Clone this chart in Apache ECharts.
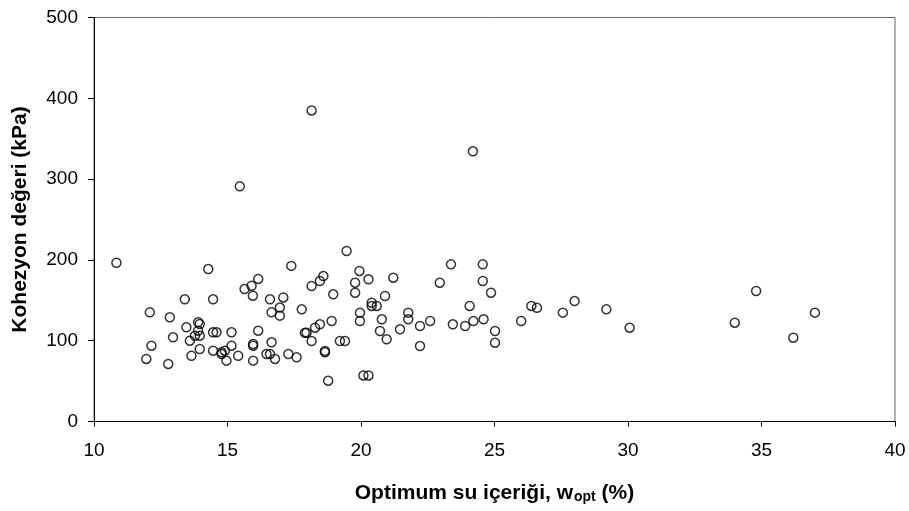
<!DOCTYPE html>
<html>
<head>
<meta charset="utf-8">
<script src="https://cdn.jsdelivr.net/npm/echarts@6/dist/echarts.min.js"></script>
<style>html,body{margin:0;padding:0;background:#fff;}#c{width:909px;height:511px;}</style>
</head>
<body>
<div id="c"></div>
<script>
var wOpt = [10.84,15.46,14.28,17.39,16.15,15.9,15.64,15.95,13.4,14.46,16.59,17.09,16.96,16.65,16.96,17.78,12.09,12.84,13.46,13.9,13.96,12.96,12.15,11.96,12.78,13.59,13.78,13.96,13.9,14.46,14.59,15.15,16.15,13.96,13.65,14.46,14.78,14.9,14.78,15.15,14.96,15.4,15.96,15.96,16.65,15.96,16.46,16.59,16.78,17.28,17.59,24.19,19.46,23.37,24.56,19.94,18.59,18.46,18.15,19.78,20.28,21.21,24.56,22.95,19.78,18.96,24.87,20.9,20.4,20.4,20.59,24.07,19.96,21.77,21.77,19.96,20.78,18.9,18.46,18.28,17.9,17.96,18.15,19.21,19.4,20.71,20.96,21.46,22.21,22.59,22.21,23.44,23.9,24.21,24.59,25.02,25.02,26.0,18.65,18.65,18.77,20.09,20.28,26.38,26.59,27.56,28.0,29.19,30.06,34.0,34.8,36.19,37.0,18.15];
var cohesion = [196.5,291,188.7,192.6,176.4,168,164,155.7,151.2,151.2,151.2,153.5,141,135.1,131,138.8,135.1,129,116.6,122.8,120.7,104.2,93.8,77.4,71.2,100,106.2,106.2,112.4,110.4,110.4,110.4,112.4,89.7,81.4,87.6,85.6,87.6,83.5,93.8,75.3,81.4,95.9,93.8,98,75.3,83.5,83.5,77.4,83.5,79.4,334.4,211,194.5,194.5,186.3,180,173.9,167.7,171.8,176,178,173.9,171.8,159.4,157.4,159.4,155.3,147,143,143,143,134.7,134.7,126.5,124.4,126.5,124.4,120.3,116.1,109.9,109.9,99.6,99.6,99.6,112,101.7,114.1,118.2,124.4,93.4,120.3,118.2,124.4,126.5,112,97.5,124.4,87.3,85.6,50.5,57,57,143,140.8,134.7,149.1,138.8,116.1,122.3,161.5,103.7,134.7,385];
var xAxisTitle = 'Optimum su içeriği, w';
var xAxisSub = 'opt';
var xAxisTail = ' (%)';
var yAxisTitle = 'Kohezyon değeri (kPa)';

var points = wOpt.map(function (x, i) { return [x, cohesion[i]]; });
var font = 'Liberation Sans, Arial, sans-serif';
var chart = echarts.init(document.getElementById('c'), null, {renderer: 'canvas'});
chart.setOption({
  animation: false,
  backgroundColor: '#fff',
  grid: {left: 94, right: 14, top: 17.5, bottom: 89.5, show: true, borderColor: '#666', borderWidth: 1, containLabel: false},
  xAxis: {
    type: 'value', min: 10, max: 40, interval: 5,
    name: '{m|' + xAxisTitle + '}{s|' + xAxisSub + '}{m|' + xAxisTail + '}',
    nameLocation: 'middle', nameGap: 60,
    nameTextStyle: {
      rich: {
        m: {fontFamily: font, fontSize: 21, fontWeight: 'bold', color: '#000'},
        s: {fontFamily: font, fontSize: 14, fontWeight: 'bold', color: '#000', padding: [9, 0, 0, 1]}
      }
    },
    axisLine: {show: true, onZero: false, lineStyle: {color: '#000', width: 1}},
    axisTick: {show: true, inside: false, length: 5, lineStyle: {color: '#000'}},
    axisLabel: {fontFamily: font, fontSize: 19, color: '#000', margin: 20},
    splitLine: {show: false}
  },
  yAxis: {
    type: 'value', min: 0, max: 500, interval: 100,
    name: yAxisTitle, nameLocation: 'middle', nameGap: 63, nameRotate: 90,
    nameTextStyle: {fontFamily: font, fontSize: 21, fontWeight: 'bold', color: '#000'},
    axisLine: {show: true, onZero: false, lineStyle: {color: '#000', width: 1}},
    axisTick: {show: true, inside: false, length: 6, lineStyle: {color: '#000'}},
    axisLabel: {fontFamily: font, fontSize: 19, color: '#000', margin: 16},
    splitLine: {show: false}
  },
  series: [{
    type: 'scatter',
    data: points,
    symbol: 'circle',
    symbolSize: 9,
    itemStyle: {color: 'rgba(0,0,0,0)', borderColor: '#000', borderWidth: 1.5}
  }]
});
</script>
</body>
</html>
